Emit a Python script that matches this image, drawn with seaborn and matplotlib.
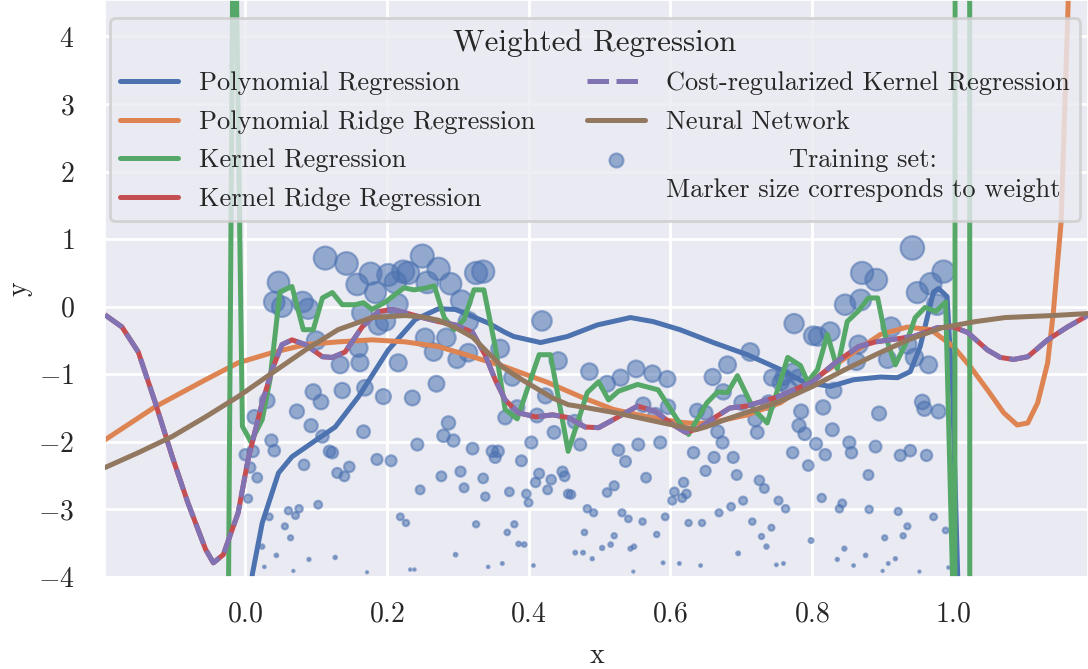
import numpy as np
import matplotlib
matplotlib.use("Agg")
import matplotlib.pyplot as plt
import matplotlib.colors as mcolors
from matplotlib.lines import Line2D
from matplotlib.legend_handler import HandlerLine2D
import seaborn as sns

# ---------------- data ----------------
# Polynomial regression (unregularised)
poly_x = [0.000, 0.010, 0.024, 0.047, 0.066, 0.095, 0.127, 0.160, 0.202, 0.240, 0.273,
          0.297, 0.343, 0.367, 0.379, 0.417, 0.455, 0.497, 0.544, 0.576, 0.614, 0.661,
          0.709, 0.756, 0.788, 0.826, 0.859, 0.897, 0.921, 0.939, 0.953, 0.963, 0.972,
          0.979, 0.991, 0.999, 1.006, 1.012]
poly_y = [-6.5, -3.96, -3.20, -2.46, -2.22, -2.01, -1.78, -1.33, -0.64, -0.19, -0.03,
          -0.04, -0.24, -0.38, -0.44, -0.53, -0.44, -0.27, -0.16, -0.22, -0.34, -0.53,
          -0.71, -0.93, -1.11, -1.18, -1.08, -1.04, -1.05, -0.96, -0.59, -0.16, 0.22,
          0.27, 0.15, -1.33, -3.98, -6.5]

# Polynomial ridge regression
pridge_x = [-0.198, -0.127, -0.056, -0.010, 0.038, 0.085, 0.131, 0.179, 0.226, 0.273,
            0.321, 0.367, 0.427, 0.473, 0.520, 0.568, 0.614, 0.638, 0.661, 0.709, 0.756,
            0.802, 0.850, 0.897, 0.935, 0.968, 1.000, 1.024, 1.048, 1.071, 1.090, 1.105,
            1.119, 1.133, 1.141, 1.147, 1.152, 1.162, 1.168]
pridge_y = [-1.97, -1.48, -1.08, -0.83, -0.68, -0.56, -0.52, -0.49, -0.52, -0.59,
            -0.74, -0.89, -1.12, -1.33, -1.52, -1.63, -1.71, -1.73, -1.71, -1.60, -1.42,
            -1.08, -0.74, -0.41, -0.30, -0.34, -0.59, -0.89, -1.23, -1.57, -1.75, -1.72,
            -1.42, -0.83, -0.09, 0.65, 1.25, 4.5, 6.5]

# Kernel regression (unregularised)
kern_x = [-0.030, -0.016, -0.004, 0.008, 0.024, 0.035, 0.049, 0.066, 0.082, 0.096,
          0.109, 0.123, 0.137, 0.155, 0.167, 0.179, 0.198, 0.224, 0.238, 0.252, 0.267,
          0.281, 0.295, 0.309, 0.323, 0.337, 0.353, 0.367, 0.384, 0.415, 0.431, 0.456,
          0.483, 0.499, 0.513, 0.527, 0.554, 0.583, 0.610, 0.626, 0.652, 0.667, 0.681,
          0.695, 0.718, 0.737, 0.766, 0.784, 0.794, 0.808, 0.822, 0.836, 0.850, 0.866,
          0.880, 0.893, 0.904, 0.918, 0.935, 0.946, 0.960, 0.975, 0.989, 1.002, 1.016,
          1.030]
kern_y = [-14.0, 7.5, -1.77, -2.00, -1.67, -1.08, 0.22, 0.30, -0.34, -0.34,
          0.13, 0.21, 0.03, 0.03, 0.06, -0.04, 0.07, 0.28, 0.25, 0.27, 0.31,
          -0.16, -0.34, -0.19, 0.25, 0.25, -0.59, -1.52, -1.66, -0.71, -0.71, -2.14,
          -1.27, -1.11, -1.38, -1.25, -1.15, -1.23, -1.67, -1.89, -1.42, -1.26, -1.27,
          -1.02, -1.52, -1.72, -0.75, -0.87, -1.11, -0.93, -0.41, -0.92, -0.22, -0.06,
          0.13, 0.13, -0.44, -0.86, -0.49, -0.16, -0.01, -0.07, 0.07, -5.4, 500.0,
          -500.0]

# Kernel ridge regression (cost-regularised variant coincides)
kridge_x = [-0.198, -0.174, -0.151, -0.127, -0.103, -0.081, -0.056, -0.045, -0.031,
            -0.010, 0.004, 0.024, 0.038, 0.052, 0.066, 0.085, 0.109, 0.123, 0.141,
            0.165, 0.188, 0.208, 0.226, 0.250, 0.273, 0.297, 0.321, 0.339, 0.353,
            0.367, 0.386, 0.410, 0.434, 0.456, 0.480, 0.499, 0.520, 0.554, 0.579,
            0.603, 0.622, 0.641, 0.660, 0.684, 0.708, 0.753, 0.801, 0.833, 0.866,
            0.890, 0.944, 0.977, 1.000, 1.020, 1.048, 1.066, 1.085, 1.105, 1.133,
            1.161, 1.191]
kridge_y = [-0.12, -0.30, -0.67, -1.42, -2.22, -2.90, -3.59, -3.79, -3.67,
            -3.05, -2.26, -1.42, -0.93, -0.56, -0.49, -0.56, -0.74, -0.75, -0.67,
            -0.30, -0.07, -0.04, -0.09, -0.16, -0.22, -0.27, -0.38, -0.72, -1.08,
            -1.38, -1.57, -1.63, -1.60, -1.64, -1.78, -1.79, -1.67, -1.47, -1.55,
            -1.74, -1.86, -1.80, -1.66, -1.50, -1.47, -1.33, -1.11, -0.83, -0.59,
            -0.52, -0.44, -0.31, -0.30, -0.38, -0.64, -0.75, -0.78, -0.74, -0.49,
            -0.30, -0.12]

# Neural network
nn_x = [-0.198, -0.151, -0.103, -0.056, -0.010, 0.038, 0.085, 0.131, 0.179, 0.226,
        0.250, 0.273, 0.297, 0.321, 0.339, 0.363, 0.386, 0.410, 0.434, 0.456, 0.480,
        0.523, 0.590, 0.636, 0.650, 0.678, 0.706, 0.753, 0.801, 0.847, 0.890, 0.936,
        0.984, 1.031, 1.073, 1.141, 1.191]
nn_y = [-2.38, -2.16, -1.92, -1.63, -1.33, -0.98, -0.64, -0.34, -0.16, -0.13,
        -0.15, -0.20, -0.31, -0.45, -0.64, -0.89, -1.05, -1.20, -1.35, -1.45, -1.49,
        -1.57, -1.72, -1.82, -1.78, -1.67, -1.57, -1.41, -1.18, -0.93, -0.71, -0.49,
        -0.31, -0.22, -0.16, -0.13, -0.10]

# Weighted training set
train_x = [
    0.000, 0.011, 0.013, 0.007, 0.017, 0.004, 0.031, 0.037, 0.041, 0.024, 0.027, 0.034,
    0.044, 0.047, 0.041, 0.052, 0.056, 0.061, 0.064, 0.068, 0.071, 0.073, 0.076,
    0.081, 0.089, 0.083, 0.090, 0.093, 0.096, 0.100, 0.103, 0.107, 0.109, 0.113, 0.119,
    0.123, 0.127, 0.130, 0.134, 0.137, 0.140, 0.143, 0.147, 0.158, 0.165, 0.160, 0.162,
    0.167,
    0.169, 0.172, 0.177, 0.184, 0.186, 0.188, 0.195, 0.198, 0.202, 0.206, 0.212, 0.215,
    0.216, 0.219, 0.223, 0.227, 0.230, 0.233, 0.239, 0.236, 0.243, 0.247,
    0.250, 0.254, 0.257, 0.266, 0.270, 0.273, 0.277, 0.280, 0.284, 0.287, 0.290, 0.294,
    0.297, 0.299, 0.304, 0.305, 0.309, 0.315, 0.315, 0.321, 0.326, 0.336, 0.326, 0.336,
    0.339, 0.343, 0.349, 0.353, 0.357, 0.360, 0.363, 0.367, 0.370, 0.373, 0.377, 0.380,
    0.384, 0.386, 0.390, 0.394, 0.397, 0.400, 0.404, 0.407, 0.410, 0.412, 0.415,
    0.419, 0.424, 0.427, 0.432, 0.436, 0.442, 0.448, 0.451, 0.456, 0.460, 0.465, 0.466,
    0.473, 0.477, 0.479, 0.483, 0.486, 0.490, 0.492,
    0.504, 0.511, 0.511, 0.516, 0.521, 0.521, 0.527, 0.530, 0.532, 0.537, 0.541, 0.544,
    0.549, 0.548, 0.552, 0.555, 0.561, 0.562, 0.566, 0.575, 0.579, 0.581, 0.586,
    0.590, 0.593, 0.596, 0.597, 0.603, 0.606, 0.613, 0.617, 0.619, 0.623, 0.626, 0.633,
    0.638, 0.643, 0.645, 0.650, 0.650, 0.660, 0.662, 0.667, 0.669,
    0.674, 0.675, 0.681, 0.686, 0.689, 0.694, 0.696, 0.701, 0.703, 0.713, 0.716, 0.720,
    0.723, 0.726, 0.729, 0.733, 0.736, 0.739, 0.743, 0.744, 0.750, 0.753, 0.756, 0.760,
    0.760,
    0.763, 0.767, 0.773, 0.774, 0.775, 0.781, 0.782, 0.785, 0.790, 0.795, 0.799, 0.802,
    0.806, 0.809, 0.814, 0.816, 0.819, 0.826, 0.829, 0.831, 0.836, 0.839, 0.843,
    0.846, 0.847, 0.853, 0.856, 0.859, 0.863, 0.866, 0.869, 0.871, 0.876, 0.880, 0.881,
    0.891, 0.890, 0.895, 0.900, 0.903, 0.907, 0.908, 0.912, 0.918, 0.922,
    0.925, 0.929, 0.935, 0.935, 0.939, 0.942, 0.945, 0.949, 0.952, 0.956, 0.959, 0.962,
    0.965, 0.968, 0.972, 0.977, 0.979, 0.986, 0.989, 0.993,
]
train_y = [
    -2.19, -2.14, -1.63, -2.38, -2.53, -2.84, -1.39, -1.98, -2.13, -3.55, -3.85, -3.11,
    -3.68, 0.36, 0.07, 0.00, -3.25, -3.02, -3.42, -3.91, -3.09, -1.55, -2.99,
    0.07, -0.03, -2.34, -3.74, -1.76, -1.26, -0.50, -2.93, -1.41, -1.92, 0.72, -2.14,
    -2.16, -3.71, -2.46, -0.86, -1.24, -2.51, 0.64, -2.37, 0.33, -0.09, -0.61, -0.83,
    -1.85,
    -1.20, -3.93, 0.49, 0.21, -2.26, -0.27, -1.33, -0.21, 0.47, -2.28, 0.36, 0.04,
    -0.83, -3.11, 0.52, -3.20, 0.50, -3.89, -3.89, -1.35, -2.04, -2.71,
    0.75, -0.46, 0.36, -0.67, -1.14, 0.56, -2.51, -1.91, -0.46, -1.72, 0.34, -1.98,
    -3.67, -0.78, -2.44, 0.09, -2.68, -0.68, -0.22, -2.10, 0.50, 0.52, -3.22, -2.54,
    -2.81, -3.85, -2.14, -2.23, -2.14, -0.62, -3.80, -1.64, -3.34, -2.74, -1.05, -3.22,
    -1.49, -3.51, -2.28, -3.52, -2.77, -2.90, -2.01, -3.83, -2.60, -1.61, -2.47,
    -0.21, -1.32, -2.71, -2.56, -1.86, -0.80, -2.44, -2.51, -2.77, -2.78, -1.70, -3.64,
    -2.04, -3.64, -3.34, -2.99, -0.96, -3.73, -3.05,
    -3.57, -1.14, -2.75, -3.52, -3.39, -2.65, -2.12, -1.05, -3.05, -2.29, -3.14, -3.58,
    -3.55, -3.92, -0.92, -2.04, -3.18, -1.45, -2.53, -0.99, -1.60, -3.37, -2.01,
    -3.79, -3.11, -1.07, -1.48, -2.87, -2.74, -3.80, -2.83, -2.60, -2.77, -3.20, -2.16,
    -1.54, -3.83, -3.20, -1.57, -2.43, -1.04, -2.23, -1.85, -3.05,
    -2.01, -1.26, -0.86, -2.96, -2.23, -2.49, -3.65, -1.42, -2.87, -0.67, -3.18, -1.67,
    -1.86, -2.57, -3.40, -2.69, -3.55, -1.42, -3.27, -1.05, -3.82, -2.87, -1.12, -1.04,
    -3.80,
    -2.99, -1.20, -2.16, -0.96, -0.25, -1.05, -1.76, -1.55, -1.88, -2.35, -3.46, -0.43,
    -2.03, -0.44, -2.83, -1.49, -2.19, -0.37, -1.82, -1.24, -3.74, -2.99, -2.91,
    -3.58, 0.03, -2.01, -2.16, -3.83, -0.81, -0.56, 0.10, 0.50, -3.68, -2.49, -3.00,
    0.40, -2.07, -1.58, -3.91, -3.42, -0.78, -3.80, -0.30, -3.73, -3.03,
    -2.20, -3.39, -0.56, -3.25, -2.13, 0.87, -0.75, 0.21, -3.92, -1.41, -1.51, -2.20,
    -0.86, 0.34, -3.11, 0.03, -1.55, 0.52, -3.31, -3.86,
]

labels = [
    "Polynomial Regression",
    "Polynomial Ridge Regression",
    "Kernel Regression",
    "Kernel Ridge Regression",
    "Cost-regularized Kernel Regression",
    "Neural Network",
    "Training set:\nMarker size corresponds to weight",
]


class RaisedMarkerHandler(HandlerLine2D):
    """Legend handler that lifts the marker to the first line of a two-line label."""

    def __init__(self, lift, **kw):
        super().__init__(**kw)
        self.lift = lift

    def create_artists(self, legend, orig_handle, xdescent, ydescent, width, height,
                       fontsize, trans):
        artists = super().create_artists(legend, orig_handle, xdescent, ydescent,
                                         width, height, fontsize, trans)
        for a in artists:
            a.set_ydata([y + self.lift * fontsize for y in a.get_ydata()])
        return artists


# ---------------- style ----------------
sns.set_theme(style="darkgrid", palette="deep")
plt.rcParams.update({
    "font.family": "serif",
    "font.serif": ["cmr10"],
    "mathtext.fontset": "cm",
    "axes.formatter.use_mathtext": True,
    "axes.unicode_minus": True,
    "grid.linewidth": 2.0,
    "xtick.major.pad": 11.5,
    "ytick.major.pad": 16,
})
pal = sns.color_palette("deep")
LW = 3.6

fig = plt.figure(figsize=(10.88, 6.69), dpi=100)
ax = fig.add_axes([105 / 1088, 92 / 669, 983 / 1088, 577 / 669])

# training points: marker area grows with the weight
sns.scatterplot(x=train_x, y=train_y, size=train_y, sizes=(2, 290),
                size_norm=mcolors.PowerNorm(gamma=1.5, vmin=-4.0, vmax=0.9),
                color=pal[0], edgecolor=pal[0], alpha=0.55, linewidth=1.6,
                legend=False, ax=ax, zorder=1)

handles = []
for xs, ys, c in [(poly_x, poly_y, pal[0]), (pridge_x, pridge_y, pal[1]),
                  (kern_x, kern_y, pal[2]), (kridge_x, kridge_y, pal[3])]:
    sns.lineplot(x=xs, y=ys, color=c, lw=LW, estimator=None, sort=False, ax=ax, zorder=2)
    handles.append(ax.get_lines()[-1])

sns.lineplot(x=kridge_x, y=kridge_y, color=pal[4], lw=LW, estimator=None, sort=False,
             ax=ax, zorder=3)
dash_line = ax.get_lines()[-1]
dash_line.set_linestyle((0, (4.3, 1.5)))
handles.append(dash_line)

sns.lineplot(x=nn_x, y=nn_y, color=pal[5], lw=LW, estimator=None, sort=False, ax=ax,
             zorder=4)
handles.append(ax.get_lines()[-1])

rgba = mcolors.to_rgba(pal[0], 0.55)
train_handle = Line2D([], [], ls="none", marker="o", markersize=10,
                      markerfacecolor=rgba, markeredgecolor=rgba, markeredgewidth=1.6)
handles.append(train_handle)

ax.set_xlim(-0.198, 1.19)
ax.set_ylim(-4.0, 4.54)
ax.set_xticks([0.0, 0.2, 0.4, 0.6, 0.8, 1.0])
ax.set_yticks(range(-4, 5))
ax.tick_params(labelsize=20)
ax.set_xlabel("x", fontsize=20, labelpad=10.5)
ax.set_ylabel("y", fontsize=20, labelpad=4)

leg = ax.legend(handles, labels, ncol=2, loc="upper center", bbox_to_anchor=(0.4985, 0.991),
                title="Weighted Regression", fontsize=19, title_fontsize=22.3,
                frameon=True, framealpha=0.8, edgecolor="0.8", facecolor="#EAEAF2",
                labelspacing=0.56, columnspacing=1.95, handlelength=2.2, handletextpad=0.8,
                borderpad=0.4,
                handler_map={train_handle: RaisedMarkerHandler(lift=0.6)})
leg.get_frame().set_linewidth(2.0)
for t in leg.get_texts():
    t.set_multialignment("center")
    t.set_linespacing(1.33)

fig.savefig("out.png", dpi=100)
